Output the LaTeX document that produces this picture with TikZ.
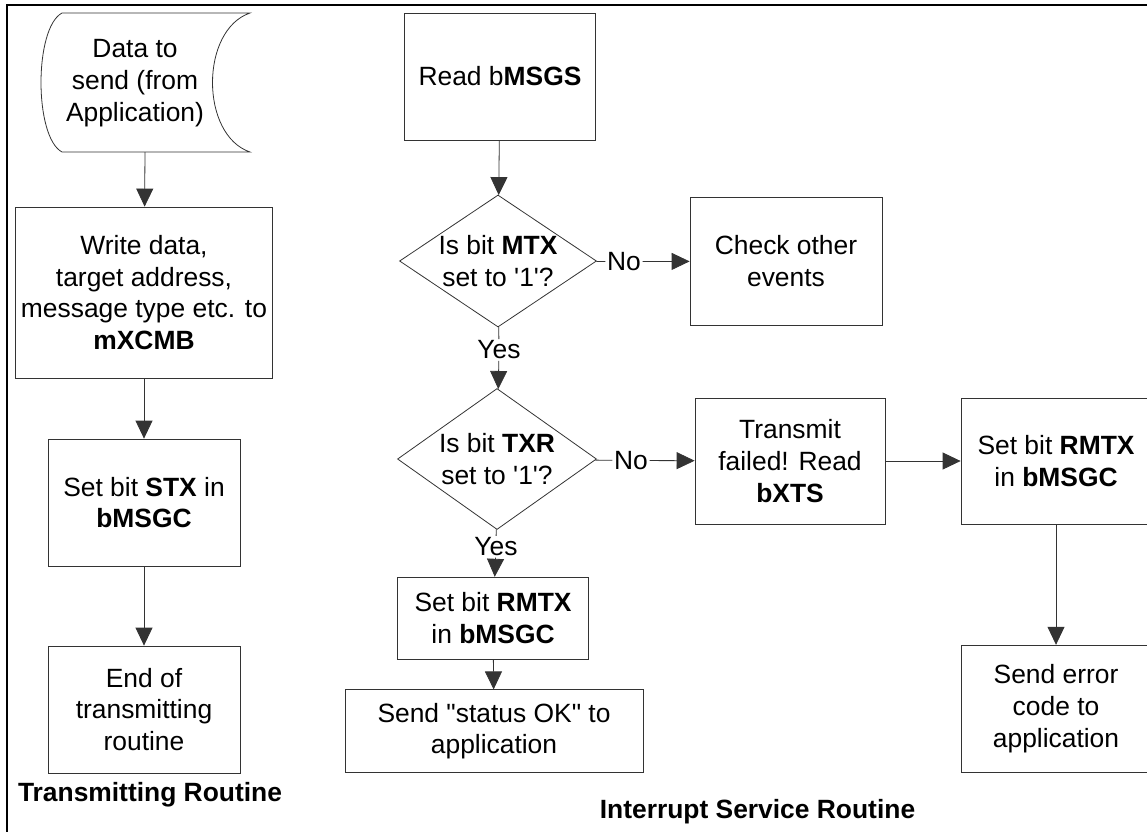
\documentclass[tikz,border=0pt]{standalone}
\usepackage{fontspec}
\setmainfont{Liberation Sans}
\usetikzlibrary{arrows.meta,shapes.geometric}

\begin{document}
\begin{tikzpicture}[>={Triangle[length=18pt,width=17pt]},x=1pt,y=-1pt]

        % Styles
        \tikzset{
          every node/.style={font=\fontsize{26.4}{31.7}\selectfont},
          box/.style={rectangle,draw=black!80,line width=0.8pt,
                      align=center,inner sep=0pt},
          decision/.style={diamond,aspect=1.5,draw=black!80,line width=0.8pt,
                           align=center,inner sep=-15pt},
          answer/.style={inner sep=1.5pt},
          heading/.style={font=\fontsize{26.4}{31.7}\selectfont\bfseries},
          flow/.style={draw=black!80,line width=0.8pt}
        }

        % x-coordinates for columns
        \def\xtx{144}    % transmitting routine
        \def\xisr{498}   % interrupt routine, main column
        \def\xno{788}    % "No" branch
        \def\xerr{1056}  % error branch

        \useasboundingbox (0,0) rectangle (1147,831);

        % Frame (only top and left edges show)
        \draw[line width=2pt] (7,836) -- (7,5) -- (1152,5);

        %-------------------------------
        % Transmitting routine
        %-------------------------------
        \draw[flow] (62,13) -- (250,13)
              .. controls (200,30) and (200,135) .. (250,152)
              -- (62,152)
              .. controls (34,137) and (34,28) .. (62,13) -- cycle;
        \node[align=center] (data) at (135,83)
        {Data to\\send (from\\Application)};
        \coordinate (dataout) at (145,152);

        \node[box,minimum width=257pt,minimum height=171pt] (write) at (\xtx,292.5)
        {Write data,\\target address,\\message type etc. to\\\textbf{mXCMB}};
        \node[box,minimum width=192pt,minimum height=127pt] (stx) at (\xtx,502.5)
        {Set bit \textbf{STX} in\\\textbf{bMSGC}};
        \node[box,minimum width=192pt,minimum height=127pt] (endtx) at (\xtx,709.5)
        {End of\\transmitting\\routine};

        \draw[flow,->] (dataout) -- (write);
        \draw[flow,->] (write) -- (stx);
        \draw[flow,->] (stx) -- (endtx);

        \node[heading] (txtitle) at (150,795) {Transmitting Routine};

        %-------------------------------
        % Interrupt service routine
        %-------------------------------
        \node[box,minimum width=191pt,minimum height=127pt] (read) at (500,76.5)
        {Read b\textbf{MSGS}};
        \node[decision,minimum width=197pt,minimum height=132pt] (mtx) at (\xisr,261)
        {Is bit \textbf{MTX}\\set to \textquotesingle1\textquotesingle?};
        \node[answer] (no1) at (624,261.5) {No};
        \node[box,minimum width=192pt,minimum height=128pt] (check) at (\xno-2,261.2)
        {Check other\\events};
        \node[answer] (yes1) at (499,350) {Yes};

        \node[decision,minimum width=199pt,minimum height=141pt] (txr) at (497,459)
        {Is bit \textbf{TXR}\\set to \textquotesingle1\textquotesingle?};
        \node[answer] (no2) at (631,460.5) {No};
        \node[box,minimum width=190pt,minimum height=126pt] (failed) at (\xno+2,461)
        {Transmit\\failed! Read\\\textbf{bXTS}};
        \node[answer] (yes2) at (496,546.7) {Yes};

        \node[box,minimum width=191pt,minimum height=82pt] (rmtxok) at (493,618.2)
        {Set bit \textbf{RMTX}\\in \textbf{bMSGC}};
        \node[box,minimum width=298pt,minimum height=83pt] (sendok) at (494,731.3)
        {Send \textquotedbl status OK\textquotedbl{} to\\application};

        \node[box,minimum width=190pt,minimum height=126pt] (rmtxerr) at (\xerr,461)
        {Set bit \textbf{RMTX}\\in \textbf{bMSGC}};
        \node[box,minimum width=190pt,minimum height=127pt] (senderr) at (\xerr,708.7)
        {Send error\\code to\\application};

        \draw[flow,->] (read) -- (mtx);
        \draw[flow] (mtx) -- (no1);
        \draw[flow,->] (no1) -- (check);
        \draw[flow] (mtx) -- (yes1);
        \draw[flow,->] (yes1) -- (txr);

        \draw[flow] (txr) -- (no2);
        \draw[flow,->] (no2) -- (failed);
        \draw[flow] (txr) -- (yes2);
        \draw[flow,->] (yes2) -- (rmtxok);
        \draw[flow,->] (rmtxok) -- (sendok);

        \draw[flow,->] (failed) -- (rmtxerr);
        \draw[flow,->] (rmtxerr) -- (senderr);

        \node[heading] (isrtitle) at (757.5,811.7) {Interrupt Service Routine};

\end{tikzpicture}
\end{document}
